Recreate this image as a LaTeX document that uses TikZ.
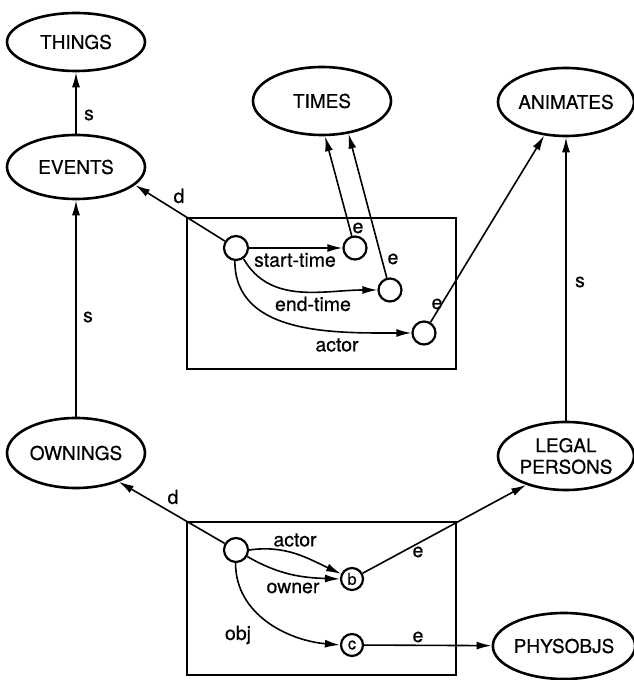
\documentclass[tikz,border=0pt]{standalone}
\usepackage{fontspec}
\setmainfont{TeX Gyre Heros}[FakeBold=0.5]
\usetikzlibrary{shapes.geometric,arrows.meta}
\begin{document}
\begin{tikzpicture}[x=1pt,y=1pt]
\tikzset{
 cls/.style={ellipse, draw, line width=2.6pt, minimum width=138pt, minimum height=66pt, inner sep=0pt, font=\fontsize{19}{21.5}\selectfont, align=center},
 slot/.style={circle, draw, line width=2.2pt, minimum size=23pt, inner sep=0pt, font=\fontsize{16.5}{16.5}\selectfont},
 frame/.style={draw, line width=2.3pt, inner sep=0pt, outer sep=0pt},
 conn/.style={line width=1.6pt, -{Latex[length=15pt,width=8pt]}},
 lbl/.style={font=\fontsize{19.5}{19.5}\selectfont, inner sep=0pt},
}
\useasboundingbox (0,0) rectangle (634,680);
% class ellipses
\node[cls, minimum height=58pt] (THINGS) at (76,638) {THINGS};
\node[cls, minimum height=64pt] (EVENTS) at (76,513) {EVENTS};
\node[cls, minimum height=68pt] (TIMES) at (322,579) {TIMES};
\node[cls, minimum width=136pt, minimum height=68pt] (ANIMATES) at (566,578) {ANIMATES};
\node[cls, minimum height=70pt] (OWNINGS) at (76,227) {OWNINGS};
\node[cls, minimum width=136pt, minimum height=68pt] (LP) at (566,224) {LEGAL\\PERSONS};
\node[cls, minimum height=66pt] (PHYSOBJS) at (564,34) {PHYSOBJS};
% boxes
\node[frame, minimum width=269pt, minimum height=151pt] (ubox) at (321.5,386.5) {};
\node[frame, minimum width=269pt, minimum height=153pt] (lbox) at (321.5,81.5) {};
% upper box slots
\node[slot, minimum size=24pt] (U) at (236,432) {};
\node[slot] (S) at (355,432) {};
\node[slot] (E) at (390,390) {};
\node[slot] (A) at (424,347) {};
% lower box slots
\node[slot, minimum size=24pt] (L) at (236,130) {};
\node[slot, minimum size=22pt] (b) at (352,101) {b};
\node[slot, minimum size=22pt] (c) at (352,35) {c};
% s links
\draw[conn] (EVENTS) -- (THINGS);
\node[lbl] (s1) at (89,565) {s};
\draw[conn] (OWNINGS) -- (EVENTS);
\node[lbl] (s2) at (88,363) {s};
\draw[conn] (LP) -- (ANIMATES);
\node[lbl] (s3) at (580,398) {s};
% d links
\draw[conn] (U) -- (EVENTS.-17.5);
\node[lbl] (d1) at (179,484) {d};
\draw[conn] (L) -- (OWNINGS.-34.2);
\node[lbl] (d2) at (173,183) {d};
% upper box roles
\draw[conn] (U) -- (S);
\node[lbl] (st) at (295,420) {start-time};
\draw[conn] (U.-55) to[out=-60,in=180] (E.west);
\node[lbl] (et) at (313,376) {end-time};
\draw[conn] (U.-95) to[out=-90,in=180] (A.west);
\node[lbl] (ac1) at (337,335) {actor};
% e links upper
\draw[conn] (S) -- (TIMES.-85);
\node[lbl] (e1) at (358,452) {e};
\draw[conn] (E) -- (TIMES.-51.7);
\node[lbl] (e2) at (393,421) {e};
\draw[conn] (A) -- (ANIMATES.-123.7);
\node[lbl] (e3) at (437,376) {e};
% lower box roles
\draw[conn] (L.east) to[out=8,in=155] (b);
\node[lbl] (ac2) at (295,140) {actor};
\draw[conn] (L.-30) to[out=-30,in=178] (b.west);
\node[lbl] (ow) at (293,92) {owner};
\draw[conn] (L.-92) to[out=-90,in=175] (c.west);
\node[lbl] (ob) at (238,45) {obj};
% e links lower
\draw[conn] (b) -- (LP.-144.3);
\node[lbl] (e4) at (418,128) {e};
\draw[conn] (c) -- (PHYSOBJS);
\node[lbl] (e5) at (418,43) {e};
\end{tikzpicture}
\end{document}
